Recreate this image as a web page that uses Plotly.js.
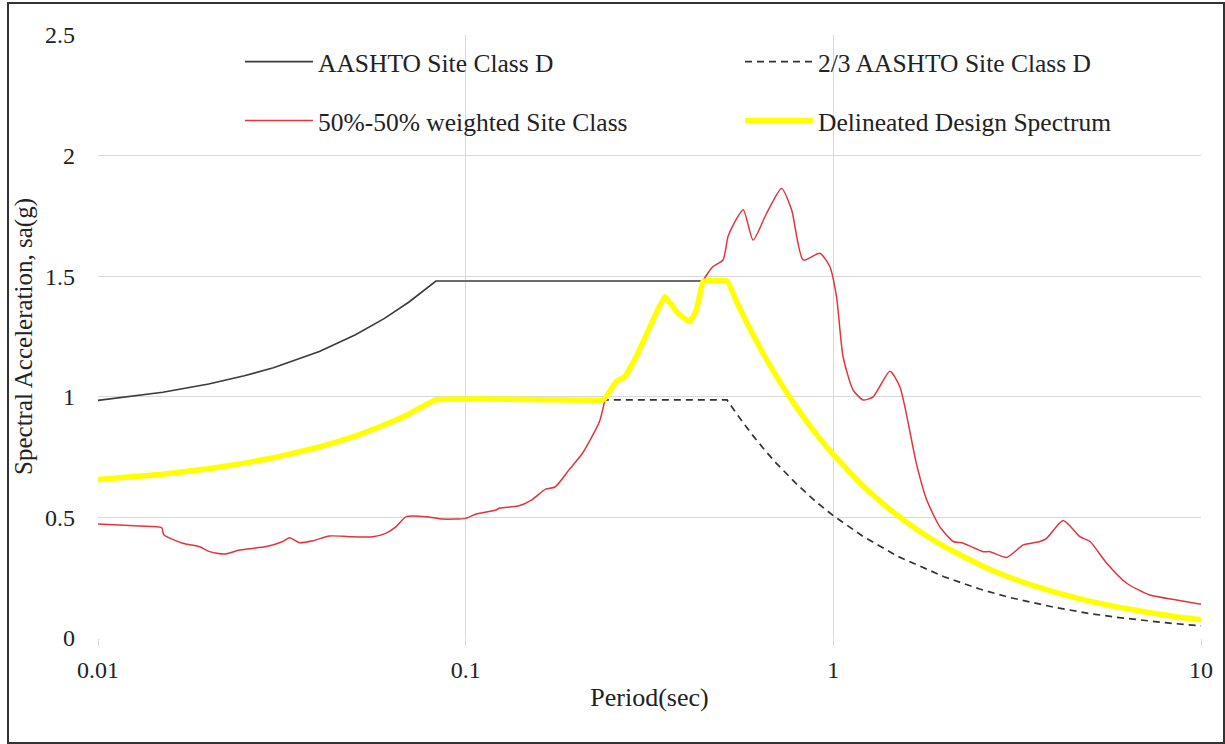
<!DOCTYPE html>
<html>
<head>
<meta charset="utf-8">
<script src="https://cdn.plot.ly/plotly-3.0.1.min.js"></script>
<style>
html,body{margin:0;padding:0;background:#fff;}
#chart{width:1225px;height:744px;}
</style>
</head>
<body>
<div id="chart"></div>
<script>
// ---- data ----
var aashtoT  = [0.01, 0.015, 0.02, 0.025, 0.03, 0.04, 0.05, 0.06, 0.07, 0.083, 0.2, 0.3, 0.4, 0.514];
var aashtoSa = [0.985, 1.019, 1.053, 1.087, 1.120, 1.188, 1.256, 1.324, 1.392, 1.48, 1.48, 1.48, 1.48, 1.48];

var twoThirdT  = [0.01, 0.015, 0.02, 0.025, 0.03, 0.04, 0.05, 0.06, 0.07, 0.083, 0.2, 0.514, 0.55, 0.6, 0.65, 0.7, 0.8, 0.9, 1, 1.2, 1.5, 2, 2.5, 3, 4, 5, 6, 7, 8, 9, 10];
var twoThirdSa = [0.657, 0.679, 0.702, 0.725, 0.747, 0.792, 0.837, 0.883, 0.928, 0.987, 0.987, 0.987, 0.922, 0.845, 0.78, 0.724, 0.634, 0.563, 0.507, 0.423, 0.338, 0.254, 0.203, 0.169, 0.127, 0.101, 0.0845, 0.0724, 0.0634, 0.0563, 0.0507];

var weightedT  = [0.01, 0.013, 0.0149, 0.0151, 0.017, 0.0189, 0.0201, 0.0221, 0.0243, 0.0287, 0.0318, 0.0332, 0.0353, 0.0384, 0.0426, 0.0483, 0.0559, 0.0608, 0.0647, 0.0689, 0.0781, 0.0866, 0.1, 0.1067, 0.121, 0.1238, 0.139, 0.151, 0.165, 0.175, 0.191, 0.208, 0.2315, 0.241, 0.257, 0.271, 0.291, 0.317, 0.348, 0.378, 0.407, 0.424, 0.442, 0.471, 0.501, 0.517, 0.534, 0.569, 0.605, 0.658, 0.723, 0.77, 0.828, 0.919, 0.978, 1.02, 1.063, 1.132, 1.205, 1.283, 1.425, 1.517, 1.684, 1.795, 1.949, 2.12, 2.256, 2.557, 2.667, 2.96, 3.286, 3.647, 3.8, 4.22, 4.686, 4.99, 5.54, 6.28, 7.26, 8.58, 10];
var weightedSa = [0.473, 0.464, 0.457, 0.428, 0.393, 0.378, 0.358, 0.348, 0.365, 0.379, 0.4, 0.416, 0.395, 0.403, 0.423, 0.42, 0.42, 0.435, 0.462, 0.503, 0.503, 0.493, 0.496, 0.514, 0.531, 0.539, 0.547, 0.572, 0.617, 0.626, 0.697, 0.767, 0.9, 1.0, 1.063, 1.083, 1.166, 1.29, 1.415, 1.346, 1.311, 1.36, 1.48, 1.54, 1.567, 1.664, 1.712, 1.775, 1.65, 1.76, 1.864, 1.775, 1.567, 1.595, 1.54, 1.415, 1.166, 1.028, 0.987, 1.0, 1.106, 1.042, 0.72, 0.572, 0.461, 0.4, 0.393, 0.358, 0.358, 0.334, 0.386, 0.4, 0.413, 0.487, 0.42, 0.4, 0.31, 0.227, 0.178, 0.158, 0.14];

var designT  = [0.01, 0.015, 0.02, 0.025, 0.03, 0.04, 0.05, 0.06, 0.07, 0.083, 0.2, 0.236, 0.241, 0.257, 0.271, 0.291, 0.317, 0.348, 0.378, 0.407, 0.424, 0.442, 0.45, 0.514, 0.55, 0.6, 0.65, 0.7, 0.8, 0.9, 1, 1.2, 1.4, 1.6, 1.8, 2, 2.5, 3, 3.5, 4, 5, 6, 7, 8, 9, 10];
var designSa = [0.657, 0.679, 0.702, 0.725, 0.747, 0.792, 0.837, 0.883, 0.928, 0.987, 0.987, 0.987, 1.0, 1.063, 1.083, 1.166, 1.29, 1.415, 1.346, 1.311, 1.36, 1.477, 1.48, 1.48, 1.382, 1.267, 1.169, 1.086, 0.95, 0.844, 0.76, 0.633, 0.543, 0.475, 0.422, 0.38, 0.304, 0.253, 0.217, 0.19, 0.152, 0.127, 0.109, 0.095, 0.084, 0.076];

var seriesNames = ["AASHTO Site Class D", "2/3 AASHTO Site Class D", "50%-50% weighted Site Class", "Delineated Design Spectrum"];
var xTickVals = [0.01, 0.1, 1, 10];
var xTickText = ["0.01", "0.1", "1", "10"];
var yTickVals = [0, 0.5, 1, 1.5, 2, 2.5];
var yTickText = ["0", "0.5", "1", "1.5", "2", "2.5"];
var xTitle = "Period(sec)";
var yTitle = "Spectral Acceleration, sa(g)";

// ---- layout helpers (pixel -> paper) ----
var W = 1225, H = 744;
var mL = 98, mR = 24, mT = 35, mB = 106;
var pw = W - mL - mR, ph = H - mT - mB;
function px(x){ return (x - mL) / pw; }
function py(y){ return (H - mB - y) / ph; }

var FONT = "Liberation Serif";
var TXT = "#222222";
var ITEMW = 68;

var traces = [
  {x: aashtoT, y: aashtoSa, name: seriesNames[0], mode: "lines", legend: "legend",
   line: {color: "#3b3b3b", width: 1.6}},
  {x: twoThirdT, y: twoThirdSa, name: seriesNames[1], mode: "lines", legend: "legend2",
   line: {color: "#333333", width: 1.7, dash: "7px,5px"}},
  {x: weightedT, y: weightedSa, name: seriesNames[2], mode: "lines", legend: "legend3",
   line: {color: "#e0353d", width: 1.5, shape: "spline", smoothing: 0.6}},
  {x: designT, y: designSa, name: seriesNames[3], mode: "lines", legend: "legend4",
   line: {color: "#ffff00", width: 5.5, shape: "spline", smoothing: 0.3}}
];

function leg(textX, yp){
  return {x: px(textX - ITEMW - 10), y: py(yp), xanchor: "left", yanchor: "middle", orientation: "h",
    bgcolor: "rgba(0,0,0,0)", borderwidth: 0, itemwidth: ITEMW,
    font: {family: FONT, size: 25.5, color: TXT}};
}

var layout = {
  width: W, height: H,
  margin: {l: mL, r: mR, t: mT, b: mB, pad: 0},
  paper_bgcolor: "#ffffff", plot_bgcolor: "#ffffff",
  font: {family: FONT, size: 24, color: TXT},
  showlegend: true,
  legend: leg(318, 62),
  legend2: leg(818, 62),
  legend3: leg(318, 121),
  legend4: leg(818, 121),
  xaxis: {
    type: "log", range: [-2, 1], autorange: false,
    tickvals: xTickVals, ticktext: xTickText,
    showgrid: true, gridcolor: "#d9d9d9", gridwidth: 1,
    showline: false, zeroline: false,
    ticks: "outside", ticklen: 7, tickcolor: "#d9d9d9", tickwidth: 1,
    ticklabelstandoff: 3,
    tickfont: {family: FONT, size: 24, color: TXT},
    title: {text: xTitle, font: {family: FONT, size: 26, color: TXT}, standoff: 6},
    fixedrange: true
  },
  yaxis: {
    range: [0, 2.5], autorange: false,
    tickvals: yTickVals, ticktext: yTickText,
    showgrid: true, gridcolor: "#d9d9d9", gridwidth: 1,
    showline: false, zeroline: false,
    ticks: "", ticklabelstandoff: 22,
    tickfont: {family: FONT, size: 24, color: TXT},
    title: {text: yTitle, font: {family: FONT, size: 25, color: TXT}, standoff: 5},
    fixedrange: true
  },
  shapes: [
    {type: "rect", xref: "paper", yref: "paper",
     x0: px(8), x1: px(1224), y0: py(743), y1: py(3),
     line: {color: "#333333", width: 2}, fillcolor: "rgba(0,0,0,0)", layer: "above"}
  ]
};

Plotly.newPlot("chart", traces, layout, {displayModeBar: false, staticPlot: true});
</script>
</body>
</html>
